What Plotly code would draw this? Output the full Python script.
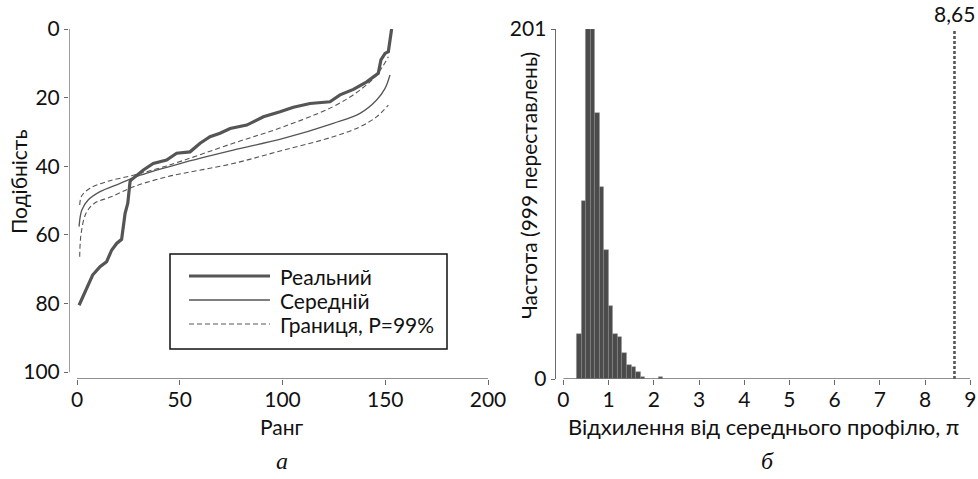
import plotly.graph_objects as go

# ---------------- data: panel a ----------------
real_rank = [1, 2.3, 5, 7.6, 11.2, 14.4, 16.9, 19.3, 21.7, 23.4, 24.7, 25.8, 26.3, 29, 32.3,
             37.1, 43.6, 48.5, 55, 59.9, 64.7, 69.6, 74.5, 82.6, 90.7, 98.8, 105.3, 113.4,
             123.1, 128, 134.5, 141, 146.6, 147.9, 149.9, 151.5, 153.1]
real_val = [80.5, 78.8, 75.1, 71.7, 69.3, 67.8, 64.4, 62.5, 61.3, 53.7, 50.8, 44.5, 44, 42.6, 41.1,
            39.2, 38.2, 36.2, 35.8, 33.3, 31.4, 30.4, 29, 28, 25.6, 24.1, 22.8, 21.7,
            21.2, 19.2, 17.6, 15.4, 12.9, 9, 7.1, 6.6, 0]

mean_rank = [1, 2.3, 5.3, 11.2, 21, 30.8, 50.1, 76, 100.4, 124.7, 137.7, 145.8, 149.9, 152.3]
mean_val = [57.6, 52.8, 49.9, 47.4, 45, 42.6, 39.2, 35.3, 31.9, 27.5, 24.6, 20.7, 17.3, 13.4]

up_rank = [1.3, 2.3, 6.3, 14.4, 27.4, 43.6, 76, 100.4, 124.7, 137.7, 145.8, 151.5]
up_val = [51.3, 48.6, 46.4, 44.5, 42.6, 39.9, 33.3, 28.5, 22.6, 17.8, 13.4, 8.1]

low_rank = [1.3, 2, 4.4, 8.5, 16.6, 27.4, 43.6, 76, 100.4, 124.7, 137.7, 145.8, 151.5]
low_val = [66.4, 59.6, 53.7, 50.8, 48.9, 46, 43.1, 39.2, 35.3, 31.4, 28.5, 25.6, 22.2]

legend_names = ["Реальний", "Середній", "Границя, P=99%"]

# ---------------- data: panel b ----------------
bin_centers = [0.35, 0.45, 0.55, 0.65, 0.75, 0.85, 0.95, 1.05, 1.15, 1.25, 1.35, 1.45,
               1.55, 1.65, 1.75, 2.15]
bin_counts = [26, 102, 201, 201, 153, 110, 74, 42, 26, 24, 15, 8, 7, 4, 1, 1]
observed = 8.65

a_xticks = [0, 50, 100, 150, 200]
a_yticks = [0, 20, 40, 60, 80, 100]
b_xticks = list(range(10))
b_yticks = [0, 201]

FONT = "Lato"
FS = 21
TXT = "#111111"
LC = "#555555"
AX = "#6a6a6a"

styles = [dict(color=LC, width=3.2),
          dict(color=LC, width=1.3),
          dict(color=LC, width=1.1, dash="5px,3px")]

fig = go.Figure()

fig.add_trace(go.Scatter(x=real_rank, y=real_val, mode="lines", name=legend_names[0],
                         line=styles[0], xaxis="x", yaxis="y"))
fig.add_trace(go.Scatter(x=mean_rank, y=mean_val, mode="lines", name=legend_names[1],
                         line=dict(styles[1], shape="spline"), xaxis="x", yaxis="y"))
fig.add_trace(go.Scatter(x=up_rank, y=up_val, mode="lines", name=legend_names[2],
                         line=dict(styles[2], shape="spline"), xaxis="x", yaxis="y"))
fig.add_trace(go.Scatter(x=low_rank, y=low_val, mode="lines", name=legend_names[2],
                         line=dict(styles[2], shape="spline"), xaxis="x", yaxis="y"))

fig.add_trace(go.Bar(x=bin_centers, y=bin_counts, width=0.1,
                     marker=dict(color="#4b4b4b", line=dict(color="#8c8c8c", width=0.5)),
                     xaxis="x2", yaxis="y2"))
fig.add_trace(go.Scatter(x=[observed, observed], y=[0, 201], mode="lines",
                         line=dict(color="#555555", width=2.6, dash="3px,2px"),
                         xaxis="x2", yaxis="y2"))

W, H = 978, 479
def px(v):
    return v / W
def py(v):
    return 1 - v / H

tickfont = dict(family=FONT, size=FS, color=TXT)
common = dict(showgrid=False, zeroline=False, automargin=False, tickcolor=AX, tickwidth=1.3,
              tickfont=tickfont)

fig.update_layout(
    width=W, height=H,
    margin=dict(l=0, r=0, t=0, b=0, autoexpand=False),
    paper_bgcolor="white", plot_bgcolor="white",
    font=dict(family=FONT, size=FS, color=TXT),
    bargap=0, showlegend=False,
    xaxis=dict(common, domain=[px(69), px(488)], range=[-3.9, 200], tickvals=a_xticks,
               showline=False, ticks="outside", ticklen=5, ticklabelstandoff=-3, anchor="y"),
    yaxis=dict(common, domain=[py(379), py(29)], range=[102, 0], tickvals=a_yticks,
               showline=False, ticks="outside", ticklen=4, anchor="x"),
    xaxis2=dict(common, domain=[px(555.7), px(970.3)], range=[-0.17, 9], tickvals=b_xticks,
                showline=False, ticks="outside", ticklen=5, ticklabelstandoff=-3, anchor="y2"),
    yaxis2=dict(common, domain=[py(379), py(29)], range=[0, 201], tickvals=b_yticks,
                showline=True, linecolor=AX, linewidth=1.3,
                ticks="outside", ticklen=4, anchor="x2"),
)

# axis lines
fig.add_shape(type="line", xref="x", yref="y", x0=-3.9, x1=-3.9, y0=0, y1=100,
              line=dict(color=AX, width=1.3))
fig.add_shape(type="line", xref="x", yref="y", x0=0, x1=200, y0=102, y1=102,
              line=dict(color=AX, width=1.3))
fig.add_shape(type="line", xref="x2", yref="y2", x0=0, x1=9, y0=0, y1=0,
              line=dict(color=AX, width=1.3))

def label(text, x, y, size=FS, family=FONT, angle=0, xanchor="center", xref="paper",
          yref="paper", yanchor="middle", yshift=0):
    fig.add_annotation(text=text, x=x, y=y, xref=xref, yref=yref, xanchor=xanchor,
                       yanchor=yanchor, yshift=yshift, textangle=angle, showarrow=False,
                       font=dict(family=family, size=size, color=TXT))

# legend box (panel a)
fig.add_shape(type="rect", xref="paper", yref="paper", x0=px(170), x1=px(447),
              y0=py(349), y1=py(254), line=dict(color="#111111", width=1.5),
              fillcolor="white", layer="above")
legend_rows = [276, 300, 324]
for name, st, ry in zip(legend_names, styles, legend_rows):
    fig.add_shape(type="line", xref="paper", yref="paper", x0=px(189), x1=px(270),
                  y0=py(ry), y1=py(ry), line=st, layer="above")
    label(name, px(278), py(ry), xanchor="left")

# titles
label("Подібність", px(18), py(182), angle=-90)
label("Ранг", px(282), py(426))
label("Частота (999 переставлень)", px(528), py(186), angle=-90)
label("Відхилення від середнього профілю, π", px(763), py(426), size=22)
label("<i>а</i>", px(282), py(461), size=24, family="Liberation Serif")
label("<i>б</i>", px(767), py(461), size=24, family="Liberation Serif")
label("8,65", observed, 201, xref="x2", yref="y2", yanchor="bottom", yshift=1)

fig.write_html("out.html", config={"displayModeBar": False},
               post_script="document.body.style.margin='0';")
